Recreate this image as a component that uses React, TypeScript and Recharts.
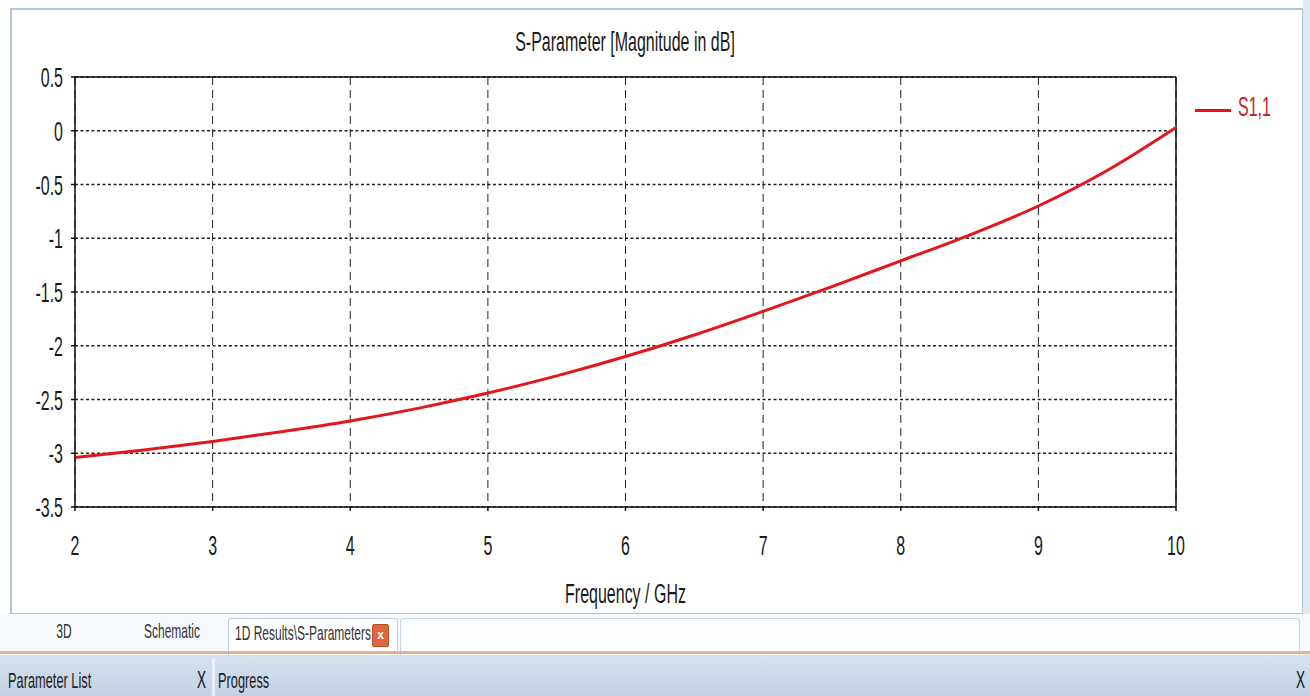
import React from "react";
import {
  LineChart,
  Line,
  XAxis,
  YAxis,
  CartesianGrid,
  ReferenceLine,
  Label,
} from "recharts";

const freqGHz = [2, 2.5, 3, 3.5, 4, 4.5, 5, 5.5, 6, 6.5, 7, 7.5, 8, 8.5, 9, 9.5, 10];
const s11dB = [-3.04, -2.97, -2.89, -2.8, -2.7, -2.58, -2.44, -2.28, -2.1, -1.9, -1.68, -1.45, -1.21, -0.97, -0.7, -0.37, 0.03];
const xTicks = [2, 3, 4, 5, 6, 7, 8, 9, 10];
const yTicks = [0.5, 0, -0.5, -1, -1.5, -2, -2.5, -3, -3.5];
const seriesName = "S1,1";

const data = freqGHz.map((f, i) => ({ f, s11: s11dB[i] }));

const FONT = "'Liberation Sans', Arial, sans-serif";
const RED = "#e3161c";

function StretchText({ x, y, anchor = "middle", fill = "#1a1a1a", size = 20, children }: any) {
  return (
    <text
      transform={`translate(${x},${y}) scale(0.8,1.4)`}
      x={0}
      y={0}
      textAnchor={anchor}
      fontFamily={FONT}
      fontSize={size}
      fill={fill}
    >
      {children}
    </text>
  );
}

const XTick = ({ x, y, payload }: any) => (
  <StretchText x={x} y={y + 42}>
    {String(payload.value)}
  </StretchText>
);

const YTick = ({ x, y, payload }: any) => (
  <StretchText x={x - 6} y={y + 10} anchor="end">
    {String(payload.value)}
  </StretchText>
);

const HText = ({ children, style }: any) => (
  <div
    style={{
      position: "absolute",
      fontFamily: FONT,
      whiteSpace: "nowrap",
      transform: "scale(0.8,1.4)",
      ...style,
    }}
  >
    {children}
  </div>
);

export default function App() {
  return (
    <div
      style={{
        position: "fixed",
        left: 0,
        top: 0,
        width: 1310,
        height: 696,
        background: "#ffffff",
        overflow: "hidden",
      }}
    >
      {/* chart panel frame */}
      <div
        style={{
          position: "absolute",
          left: 10,
          top: 8,
          width: 1290,
          height: 603,
          border: "2px solid #b4c4d8",
          background: "#fff",
        }}
      />
      <div style={{ position: "absolute", left: 1303, top: 0, width: 7, height: 655, background: "#dfe8f3" }} />

      <div style={{ position: "absolute", left: 0, top: 0 }}>
        <LineChart width={1310} height={620} data={data} margin={{ top: 77, right: 134, bottom: 73, left: 0 }}>
          <CartesianGrid horizontal={false} stroke="#222" strokeDasharray="8 5" />
          <CartesianGrid vertical={false} stroke="#222" strokeDasharray="3 2.5" strokeWidth={1.5} />
          <XAxis
            dataKey="f"
            type="number"
            domain={[2, 10]}
            ticks={xTicks}
            height={40}
            stroke="#111"
            strokeWidth={1.5}
            tickSize={4}
            tick={<XTick />}
          >
            <Label
              content={({ viewBox }: any) => (
                <StretchText x={viewBox.x + viewBox.width / 2} y={603}>
                  Frequency / GHz
                </StretchText>
              )}
            />
          </XAxis>
          <YAxis
            type="number"
            domain={[-3.5, 0.5]}
            ticks={yTicks}
            width={75}
            stroke="#111"
            strokeWidth={1.5}
            tickSize={4}
            tick={<YTick />}
          />
          <ReferenceLine y={0.5} stroke="#111" strokeWidth={1.5} />
          <ReferenceLine x={10} stroke="#111" strokeWidth={1.5} />
          <Line
            type="monotone"
            dataKey="s11"
            name={seriesName}
            stroke={RED}
            strokeWidth={3}
            dot={false}
            isAnimationActive={false}
          />
        </LineChart>
      </div>

      {/* title */}
      <HText style={{ left: 0, width: 1250, top: 30, textAlign: "center", fontSize: 20, color: "#1a1a1a" }}>
        S-Parameter [Magnitude in dB]
      </HText>

      {/* legend */}
      <div style={{ position: "absolute", left: 1195, top: 109, width: 36, height: 3, background: RED }} />
      <HText style={{ left: 1238, top: 95, fontSize: 20, color: "#c4262c", transformOrigin: "left center" }}>
        {seriesName}
      </HText>

      {/* tab strip */}
      <div style={{ position: "absolute", left: 0, top: 614, width: 1310, height: 38, background: "#f6f9fd" }} />
      <div
        style={{
          position: "absolute",
          left: 228,
          top: 618,
          width: 168,
          height: 36,
          background: "#fff",
          border: "1px solid #c0cddc",
          borderBottom: "none",
          borderRadius: "3px 3px 0 0",
        }}
      />
      <div
        style={{
          position: "absolute",
          left: 400,
          top: 618,
          width: 898,
          height: 36,
          border: "1px solid #c8d4e2",
          borderBottom: "none",
          borderRadius: "3px 3px 0 0",
          background: "#fbfdff",
        }}
      />
      <div style={{ position: "absolute", left: 0, top: 651, width: 1310, height: 3, background: "#e8b38c" }} />
      <HText style={{ left: 44, top: 622, fontSize: 15, color: "#333", width: 40, textAlign: "center" }}>3D</HText>
      <HText style={{ left: 122, top: 622, fontSize: 15, color: "#333", width: 100, textAlign: "center" }}>Schematic</HText>
      <HText style={{ left: 218, top: 624, fontSize: 15, color: "#333", width: 170, textAlign: "center" }}>
        1D Results\S-Parameters
      </HText>
      <div
        style={{
          position: "absolute",
          left: 372,
          top: 624,
          width: 15,
          height: 21,
          background: "#e0663c",
          border: "1px solid #b8502c",
          borderRadius: 2,
          color: "#fff",
          fontFamily: FONT,
          fontSize: 12,
          fontWeight: 700,
          textAlign: "center",
          lineHeight: "20px",
        }}
      >
        x
      </div>

      {/* bottom panel headers */}
      <div
        style={{
          position: "absolute",
          left: 0,
          top: 655,
          width: 1310,
          height: 41,
          background: "linear-gradient(#d5e1ee, #c3d2e2)",
        }}
      />
      <div style={{ position: "absolute", left: 212, top: 658, width: 3, height: 38, background: "#e6eef7" }} />
      <HText style={{ left: 8, top: 672, fontSize: 16, color: "#222", transformOrigin: "left center" }}>
        Parameter List
      </HText>
      <HText style={{ left: 197, top: 671, fontSize: 17, color: "#111", transformOrigin: "left center" }}>X</HText>
      <HText style={{ left: 218, top: 672, fontSize: 16, color: "#222", transformOrigin: "left center" }}>Progress</HText>
      <HText style={{ left: 1296, top: 671, fontSize: 17, color: "#111", transformOrigin: "left center" }}>X</HText>
    </div>
  );
}
